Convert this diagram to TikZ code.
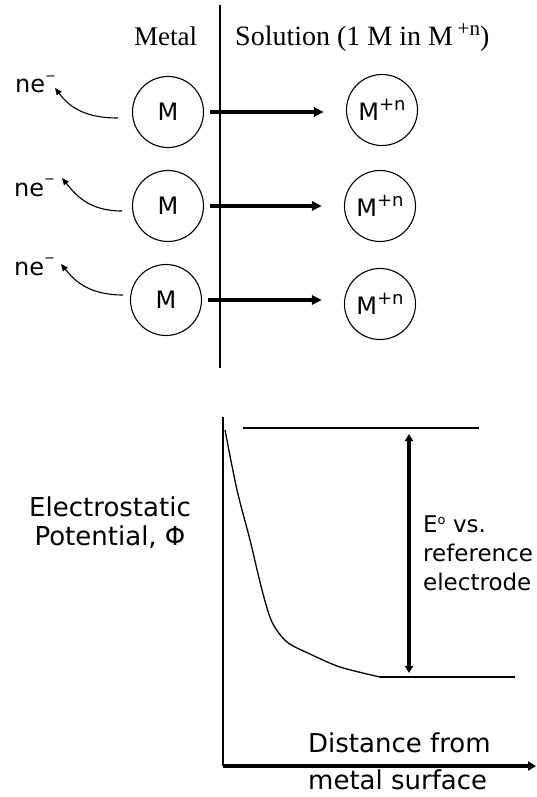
\documentclass[tikz,border=0pt]{standalone}
\usepackage{fontspec}
\setmainfont{Liberation Serif}
\newfontfamily\dvs{DejaVu Sans}
\usetikzlibrary{arrows.meta}
\begin{document}
\begin{tikzpicture}[x=1pt,y=-1pt,
  atom/.style={circle,draw,line width=1.1pt,minimum size=71pt,inner sep=0pt,font=\dvs\fontsize{24}{24}\selectfont},
  react/.style={line width=3.5pt,-{Triangle[length=10pt,width=9pt]}},
  elec/.style={line width=1.1pt,-{Triangle[length=7pt,width=6pt]}},
  lbl/.style={font=\dvs\fontsize{24}{24}\selectfont,inner sep=0pt},
  title/.style={font=\fontsize{27}{27}\selectfont,inner sep=0pt},
  axis/.style={line width=1.6pt},
  level/.style={line width=1.6pt},
  glbl/.style={font=\dvs\fontsize{26}{37}\selectfont,inner sep=0pt,align=left}
]
\useasboundingbox (0,0) rectangle (537,797);

% titles and divider
\node[title,anchor=base west] (metal) at (134,46) {Metal};
\node[title,anchor=base west] (sol) at (235,46) {\fontsize{28}{28}\selectfont Solution (1 M in M\,\raisebox{10pt}{\fontsize{21}{21}\selectfont +n})};
\coordinate (dtop) at (220,5);
\coordinate (dbot) at (220,368);
\draw[axis] (dtop) -- (dbot);

% atoms and ions
\node[atom] (m1) at (168,112) {M};
\node[atom] (m2) at (168,206) {M};
\node[atom] (m3) at (166,300) {M};
\node[atom] (p1) at (382,110) {M\raisebox{10pt}{\fontsize{18}{18}\selectfont +n}};
\node[atom] (p2) at (380,206) {M\raisebox{10pt}{\fontsize{18}{18}\selectfont +n}};
\node[atom] (p3) at (380,304) {M\raisebox{10pt}{\fontsize{18}{18}\selectfont +n}};

\draw[react,shorten <=6pt,shorten >=22pt] (m1.east) -- (m1.east -| p1.west);
\draw[react,shorten <=6pt,shorten >=22pt] (m2.east) -- (m2.east -| p2.west);
\draw[react,shorten <=6pt,shorten >=22pt] (m3.east) -- (m3.east -| p3.west);

% electrons
\node[lbl,anchor=base west] (e1) at (15,93) {ne\raisebox{13pt}{\fontsize{13}{13}\selectfont −}};
\node[lbl,anchor=base west] (e2) at (14,196) {ne\raisebox{13pt}{\fontsize{13}{13}\selectfont −}};
\node[lbl,anchor=base west] (e3) at (14,275) {ne\raisebox{13pt}{\fontsize{13}{13}\selectfont −}};
\coordinate (s1) at (118,118); \coordinate (h1) at (55,88);
\coordinate (s2) at (122,211); \coordinate (h2) at (62,178);
\coordinate (s3) at (123,295); \coordinate (h3) at (61,264);
\draw[elec] (s1) .. controls (82,118) and (68,105) .. (h1);
\draw[elec] (s2) .. controls (88,211) and (75,194) .. (h2);
\draw[elec] (s3) .. controls (88,295) and (74,280) .. (h3);

% graph
\coordinate (ytop) at (223,417);
\coordinate (O) at (223,766);
\coordinate (xend) at (536,766);
\draw[axis] (ytop) -- (O);
\draw[line width=3.5pt,-{Triangle[length=8pt,width=9pt]}] (O) -- (xend);
\coordinate (t1) at (243,428); \coordinate (t2) at (479,428);
\coordinate (b1) at (380,677); \coordinate (b2) at (515,677);
\draw[level] (t1) -- (t2);
\draw[level] (b1) -- (b2);
\coordinate (da) at (409,434); \coordinate (db) at (409,673);
\draw[line width=3.5pt,{Triangle[length=7pt,width=8pt]}-{Triangle[length=7pt,width=8pt]}] (da) -- (db);
\draw[line width=1.3pt] plot[smooth] coordinates {(225,430) (237,490) (250,540) (262,590) (272,622) (287,642) (310,654) (340,667) (380,677)};

\node[anchor=base west,font=\dvs\fontsize{23}{29}\selectfont,inner sep=0pt,align=left] (ev) at (423,590) {E\raisebox{8pt}{\fontsize{13}{13}\selectfont o} vs.\\reference\\electrode};
\node[anchor=base,font=\dvs\fontsize{26}{29}\selectfont,inner sep=0pt,align=center] (pot) at (110,545) {Electrostatic\\Potential, Φ};
\node[glbl,anchor=base west] (dist) at (308,789) {Distance from\\metal surface};
\end{tikzpicture}
\end{document}
